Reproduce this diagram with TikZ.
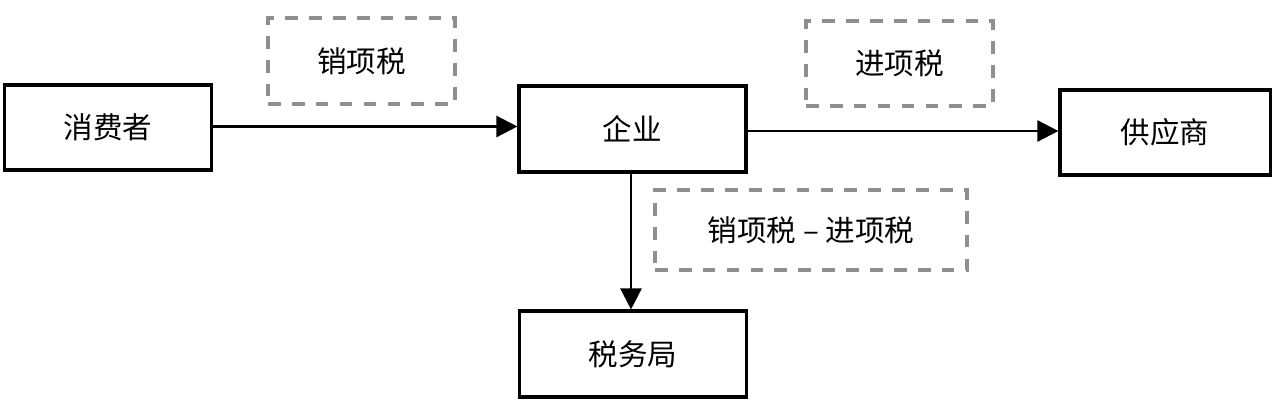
\documentclass[tikz,border=0pt]{standalone}
\usepackage{fontspec}
\setmainfont{Noto Sans CJK SC}
\usetikzlibrary{arrows.meta}
\definecolor{dashgray}{HTML}{8F8F8F}
\tikzset{
  solidbox/.style={draw=black, line width=2.2pt, inner sep=0pt, font=\fontsize{21}{25}\selectfont},
  dashbox/.style={draw=dashgray, line width=2.3pt, dash pattern=on 9pt off 8pt, inner sep=0pt, font=\fontsize{21}{25}\selectfont},
  flow/.style={line width=1.8pt, -{Triangle[length=15pt,width=15pt]}}
}
\begin{document}
\begin{tikzpicture}[x=0.025cm, y=-0.025cm]
\useasboundingbox (0,0) rectangle (1280,414);
\node[solidbox, minimum width=5.175cm, minimum height=2.125cm] (cons) at (108,127.5) {消费者};
\node[solidbox, minimum width=5.675cm, minimum height=2.15cm] (firm) at (632.5,129) {企业};
\node[solidbox, minimum width=5.25cm, minimum height=2.125cm] (supp) at (1165,132.5) {供应商};
\node[solidbox, minimum width=5.675cm, minimum height=2.15cm] (tax) at (633,354) {税务局};
\node[dashbox, minimum width=4.675cm, minimum height=2.15cm] (out) at (361.5,61) {销项税};
\node[dashbox, minimum width=4.675cm, minimum height=2.125cm] (in) at (899.5,63.5) {进项税};
\node[dashbox, minimum width=7.8cm, minimum height=2.0cm] (diff) at (811,230) {销项税 – 进项税};
\coordinate (f1) at (211,126.5);
\coordinate (f2) at (746,131);
\coordinate (f3) at (631,172);
\draw[flow] (cons.east |- f1) -- (firm.west |- f1);
\draw[flow] (firm.east |- f2) -- (supp.west |- f2);
\draw[flow] (firm.south -| f3) -- (tax.north -| f3);
\end{tikzpicture}
\end{document}
